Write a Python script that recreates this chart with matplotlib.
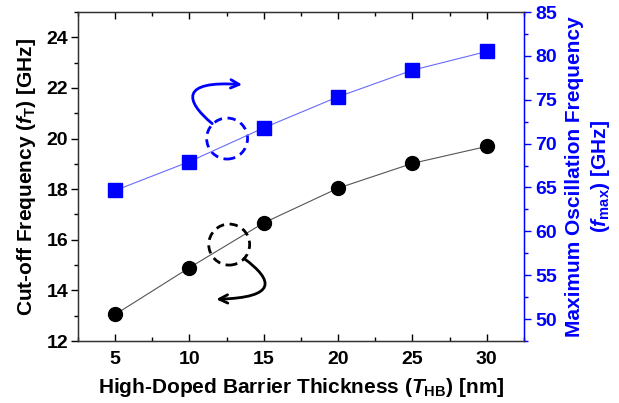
import matplotlib
matplotlib.use("Agg")
import matplotlib.pyplot as plt
from matplotlib.patches import Ellipse, FancyArrowPatch
from matplotlib.path import Path
from matplotlib.ticker import MultipleLocator

plt.rcParams['font.family'] = ['Liberation Sans', 'DejaVu Sans']
plt.rcParams['font.weight'] = 'bold'
plt.rcParams['mathtext.fontset'] = 'custom'
plt.rcParams['mathtext.rm'] = 'Liberation Sans:bold'
plt.rcParams['mathtext.it'] = 'Liberation Sans:bold:italic'
plt.rcParams['mathtext.bf'] = 'Liberation Sans:bold'

thickness = [5, 10, 15, 20, 25, 30]
ft = [13.05, 14.9, 16.67, 18.04, 19.02, 19.69]
fmax = [64.66, 67.95, 71.8, 75.34, 78.37, 80.5]

BLUE = '#0000ff'

fig = plt.figure(figsize=(6.19, 4.03), dpi=100)
ax = fig.add_axes([0.126, 0.1538, 0.7205, 0.8164])
ax2 = ax.twinx()

ax.plot(thickness, ft, color='#555555', lw=0.8, marker='o', ms=10,
        mfc='black', mec='black', zorder=3)
ax2.plot(thickness, fmax, color='#6a6aff', lw=0.8, marker='s', ms=9.5,
         mfc=BLUE, mec=BLUE, zorder=3)

ax.set_xlim(2.5, 32.5)
ax.set_ylim(12, 25)
ax2.set_ylim(47.5, 85)

ax.xaxis.set_major_locator(MultipleLocator(5))
ax.xaxis.set_minor_locator(MultipleLocator(2.5))
ax.yaxis.set_major_locator(MultipleLocator(2))
ax.yaxis.set_minor_locator(MultipleLocator(1))
ax2.yaxis.set_major_locator(MultipleLocator(5))
ax2.yaxis.set_minor_locator(MultipleLocator(2.5))

ax.tick_params(axis='x', which='both', direction='in', top=True, labelsize=14, pad=7)
ax.tick_params(axis='x', which='major', length=5, width=1)
ax.tick_params(axis='x', which='minor', length=3, width=1)
ax.tick_params(axis='y', which='both', direction='out', labelsize=14, pad=2)
ax.tick_params(axis='y', which='major', length=5, width=1)
ax.tick_params(axis='y', which='minor', length=3, width=1)
ax2.tick_params(axis='y', which='both', direction='out', colors=BLUE, labelsize=14, pad=3)
ax2.tick_params(axis='y', which='major', length=5, width=1)
ax2.tick_params(axis='y', which='minor', length=3, width=1)

for s in ['left', 'top', 'bottom']:
    ax2.spines[s].set_color('#333333')
    ax2.spines[s].set_linewidth(1)
ax2.spines['right'].set_color(BLUE)
ax2.spines['right'].set_linewidth(1)

ax.set_xlabel(r'High-Doped Barrier Thickness ($T_\mathrm{HB}$) [nm]', fontsize=15,
              fontweight='bold', labelpad=6)
ax.set_ylabel(r'Cut-off Frequency ($f_\mathrm{T}$) [GHz]', fontsize=15,
              fontweight='bold', labelpad=6)
ax2.set_ylabel('Maximum Oscillation Frequency\n' + r'($f_\mathrm{max}$) [GHz]',
               fontsize=15, fontweight='bold', color=BLUE, labelpad=6,
               linespacing=1.3)

# dashed circles
ax.add_patch(Ellipse((12.53, 20.0), 2.75, 1.62, fill=False, ec=BLUE,
                     lw=2, ls=(0, (3, 2)), zorder=4))
ax.add_patch(Ellipse((12.67, 15.81), 2.75, 1.62, fill=False, ec='black',
                     lw=2, ls=(0, (3, 2)), zorder=4))

# curved arrows
p_blue = Path([(11.53, 20.59), (9.66, 21.5), (9.4, 22.3), (13.54, 22.13)],
              [Path.MOVETO, Path.CURVE4, Path.CURVE4, Path.CURVE4])
ax.add_patch(FancyArrowPatch(path=p_blue, arrowstyle='->,head_length=6,head_width=3',
                             color=BLUE, lw=2, zorder=4))
p_black = Path([(13.67, 15.26), (15.68, 14.39), (15.9, 13.72), (11.8, 13.65)],
               [Path.MOVETO, Path.CURVE4, Path.CURVE4, Path.CURVE4])
ax.add_patch(FancyArrowPatch(path=p_black, arrowstyle='->,head_length=6,head_width=3',
                             color='black', lw=2, zorder=4))

fig.savefig('out.png', dpi=100)
